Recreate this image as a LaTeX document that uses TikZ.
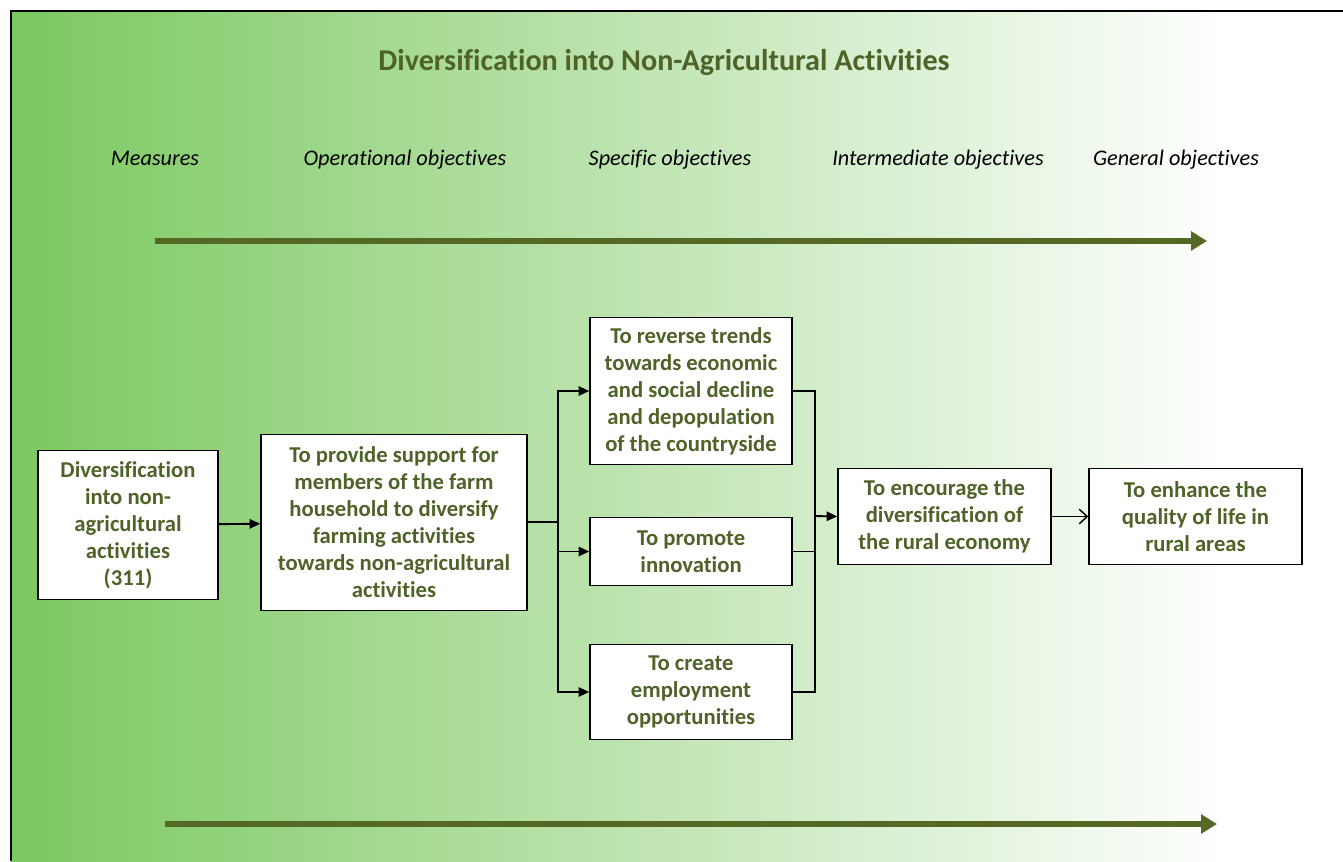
\documentclass[tikz,border=0pt]{standalone}
\usepackage{fontspec}
\setmainfont{Carlito}[Ligatures=NoCommon]
\usepackage{tikz}
\usetikzlibrary{arrows.meta}
\definecolor{olivetext}{RGB}{79,98,40}
\definecolor{olivearrow}{RGB}{85,104,36}
\definecolor{leftgreen}{RGB}{123,200,96}

\begin{document}
\begin{tikzpicture}[x=0.75pt,y=-0.75pt,
    box/.style={draw=black, line width=1.1pt, fill=white, align=center, inner sep=0pt,
        font=\fontsize{17}{20.25}\selectfont\bfseries, text=olivetext},
    head/.style={anchor=base, font=\fontsize{16.7}{19}\selectfont\itshape},
    conn/.style={line width=1.4pt, -{Triangle[length=8pt,width=7pt]}},
    flow/.style={line width=4pt, olivearrow, -{Triangle[length=12pt,width=14pt]}}]
                \useasboundingbox (0,0) rectangle (1343,861);
                \shade[left color=leftgreen, right color=white] (11,11) rectangle (1230,861);
                \draw[line width=2.2pt] (1343,11) -- (11,11) -- (11,861);

                \node[font=\fontsize{22.6}{26}\selectfont\bfseries, text=olivetext] (title) at (664,62) {Diversification into Non-Agricultural Activities};

                \node[head] (hmeas) at (155,165) {Measures};
                \node[head] (hop) at (405,165) {Operational objectives};
                \node[head] (hspec) at (670,165) {Specific objectives};
                \node[head] (hint) at (938,165) {Intermediate objectives};
                \node[head] (hgen) at (1176,165) {General objectives};

                \coordinate (top0) at (155,241);
                \coordinate (top1) at (1207,241);
                \draw[flow] (top0) -- (top1);

                \node[box, minimum width=135pt, minimum height=111.75pt] (meas) at (128,525)
                    {Diversification\\into non-\\agricultural\\activities\\(311)};
                \node[box, minimum width=199.5pt, minimum height=132pt] (oper) at (394,522.5)
                    {To provide support for\\members of the farm\\household to diversify\\farming activities\\towards non-agricultural\\activities};
                \node[box, minimum width=151.5pt, minimum height=110.25pt] (spec1) at (691,391)
                    {To reverse trends\\towards economic\\and social decline\\and depopulation\\of the countryside};
                \node[box, minimum width=151.5pt, minimum height=51pt] (spec2) at (691,551.5)
                    {To promote\\innovation};
                \node[box, minimum width=151.5pt, minimum height=71.25pt] (spec3) at (691,692)
                    {To create\\employment\\opportunities};
                \node[box, minimum width=159.75pt, minimum height=72pt] (inter) at (944.5,516.5)
                    {To encourage the\\diversification of\\the rural economy};
                \node[box, minimum width=159.75pt, minimum height=72pt] (gen) at (1195.5,516.5)
                    {To enhance the\\quality of life in\\rural areas};

                % measure to operational objective
                \draw[conn] (meas) -- (oper);

                % split to the specific objectives
                \coordinate (split) at (558,522);
                \draw[line width=1.4pt] (oper.east |- split) -- (split);
                \draw[conn] (split) |- (spec1.west);
                \draw[conn] (split) |- (spec2.west);
                \draw[conn] (split) |- (spec3.west);

                % join to the intermediate objective
                \coordinate (join) at (815,516);
                \draw[line width=1.4pt] (spec1.east) -| (join);
                \draw[line width=1.4pt] (spec2.east) -| (join);
                \draw[line width=1.4pt] (spec3.east) -| (join);
                \draw[conn] (join) -- (inter.west);

                \draw[line width=1.1pt, -{Straight Barb[length=6pt,width=11pt]}] (inter) -- (gen);

                \coordinate (bot0) at (165,824);
                \coordinate (bot1) at (1217,824);
                \draw[flow] (bot0) -- (bot1);
            \end{tikzpicture}
\end{document}
